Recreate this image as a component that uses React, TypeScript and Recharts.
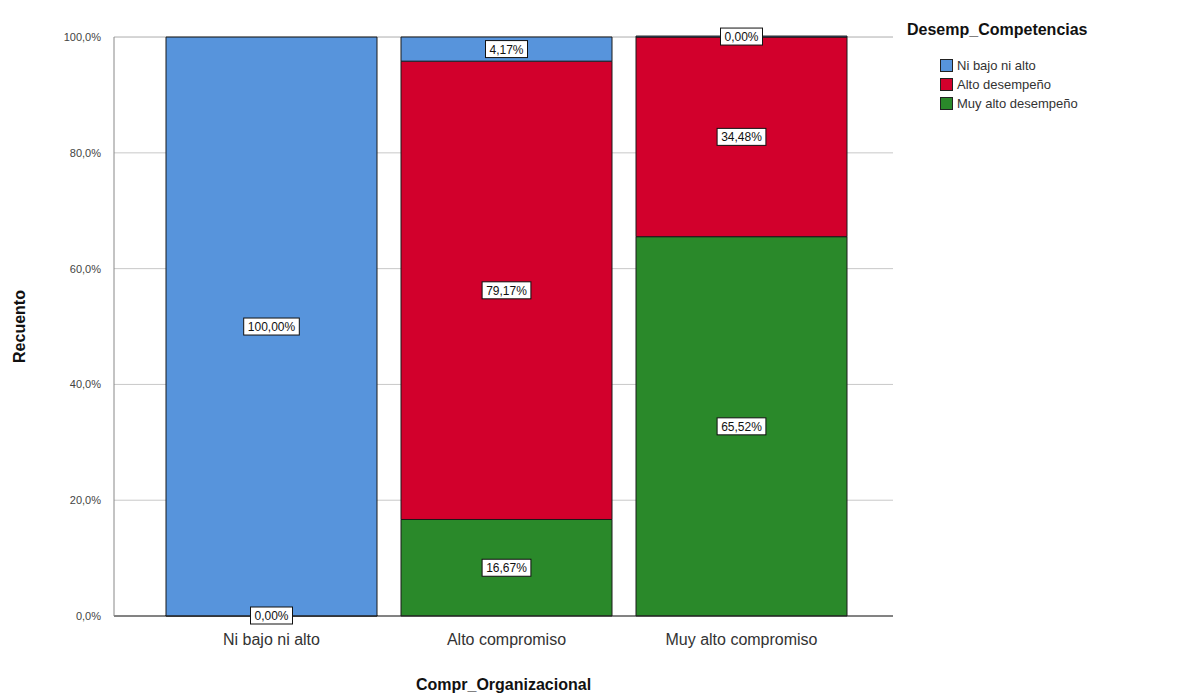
import React from "react";
import {
  BarChart,
  Bar,
  XAxis,
  YAxis,
  CartesianGrid,
  LabelList,
} from "recharts";

const categories = ["Ni bajo ni alto", "Alto compromiso", "Muy alto compromiso"];
const niBajoNiAlto = [100.0, 4.17, 0.0];
const altoDesempeno = [null, 79.17, 34.48];
const muyAltoDesempeno = [0.0, 16.67, 65.52];
const yTicks = [0, 20, 40, 60, 80, 100];

const series = [
  { key: "muyAlto", name: "Muy alto desempeño", color: "#2a892a", values: muyAltoDesempeno },
  { key: "alto", name: "Alto desempeño", color: "#d2002c", values: altoDesempeno },
  { key: "niBajo", name: "Ni bajo ni alto", color: "#5794dc", values: niBajoNiAlto },
];

const data = categories.map((c, i) => ({
  name: c,
  niBajo: niBajoNiAlto[i],
  alto: altoDesempeno[i],
  muyAlto: muyAltoDesempeno[i],
}));

const fmt = (v: number) => v.toFixed(2).replace(".", ",") + "%";

const BoxLabel = (props: any) => {
  const { x, y, width, height, value } = props;
  if (value === null || value === undefined) return null;
  const text = fmt(Number(value));
  const cx = x + width / 2;
  const cy = y + height / 2;
  const w = text.length * 6.8 + 8;
  const h = 17;
  return (
    <g>
      <rect x={cx - w / 2} y={cy - h / 2} width={w} height={h} fill="#fff" stroke="#111" strokeWidth={1} />
      <text x={cx} y={cy + 4.5} textAnchor="middle" fontSize={12} fill="#111" fontFamily="Arial, sans-serif">
        {text}
      </text>
    </g>
  );
};

const legendOrder = [...series].reverse();

const LegendBox = () => (
  <div style={{ position: "absolute", left: 907, top: 21, fontFamily: "Arial, sans-serif" }}>
    <div style={{ fontWeight: "bold", fontSize: 16, color: "#111", height: 22, marginBottom: 13 }}>Desemp_Competencias</div>
    {legendOrder.map((s) => (
      <div key={s.key} style={{ display: "flex", alignItems: "center", marginLeft: 33, height: 19 }}>
        <span style={{ width: 13, height: 13, background: s.color, border: "1px solid #222", marginRight: 4, boxSizing: "border-box" }} />
        <span style={{ fontSize: 13, color: "#333" }}>{s.name}</span>
      </div>
    ))}
  </div>
);

export default function App() {
  return (
    <div style={{ position: "absolute", left: 0, top: 0, width: 1177, height: 698, background: "#fff" }}>
      <BarChart
        width={1177}
        height={698}
        data={data}
        margin={{ top: 37, right: 284, bottom: 0, left: 0 }}
        barCategoryGap={12}
      >
        <CartesianGrid vertical={false} stroke="#c8c8c8" />
        <XAxis
          dataKey="name"
          height={82}
          padding={{ left: 40, right: 34 }}
          tickLine={false}
          axisLine={{ stroke: "#222" }}
          tickMargin={12}
          tick={{ fontSize: 16, fill: "#333", fontFamily: "Arial, sans-serif" }}
          label={{
            value: "Compr_Organizacional",
            position: "insideBottom",
            offset: 8,
            style: { fontWeight: "bold", fontSize: 16, fill: "#111", fontFamily: "Arial, sans-serif" },
          }}
        />
        <YAxis
          width={114}
          domain={[0, 100]}
          ticks={yTicks}
          tickFormatter={(v: number) => v.toFixed(1).replace(".", ",") + "%"}
          tickLine={false}
          tickMargin={7}
          axisLine={{ stroke: "#888" }}
          tick={{ fontSize: 11, fill: "#444", fontFamily: "Arial, sans-serif" }}
          label={{
            value: "Recuento",
            angle: -90,
            position: "insideLeft",
            offset: 19,
            style: { fontWeight: "bold", fontSize: 16, fill: "#111", fontFamily: "Arial, sans-serif", textAnchor: "middle" },
          }}
        />
        {series.map((s) => (
          <Bar
            key={s.key}
            dataKey={s.key}
            name={s.name}
            stackId="a"
            fill={s.color}
            stroke="#1a1a1a"
            strokeWidth={1}
            minPointSize={(_v: any, i: number) => (s.values[i] === 0 ? 1 : 0)}
            isAnimationActive={false}
          >
            <LabelList dataKey={s.key} content={<BoxLabel />} />
          </Bar>
        ))}
      </BarChart>
      <LegendBox />
    </div>
  );
}
